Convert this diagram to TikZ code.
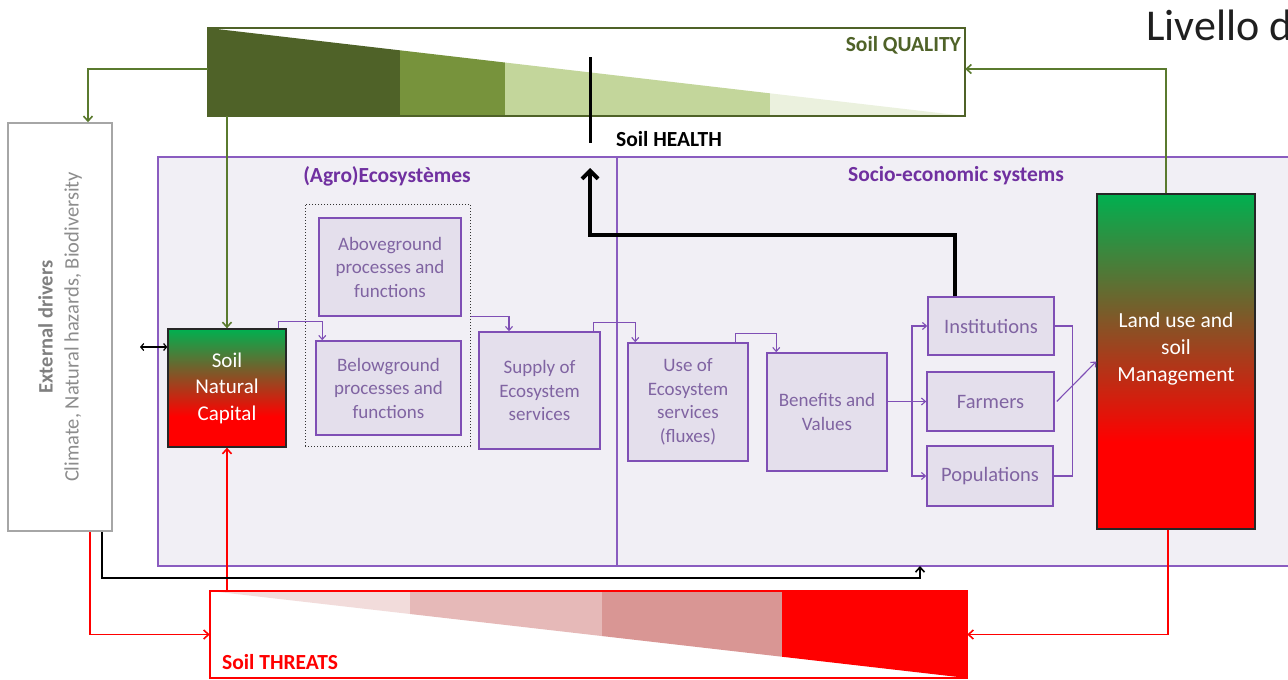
\documentclass[tikz,border=0pt]{standalone}
\usepackage{fontspec}
\setmainfont{Carlito}
\usetikzlibrary{arrows.meta,calc}

% palette
\definecolor{qdark}{HTML}{4F6228}
\definecolor{qmid}{HTML}{77933C}
\definecolor{qlight}{HTML}{C3D69B}
\definecolor{qpale}{HTML}{EBF1DE}
\definecolor{qline}{HTML}{5A7A2E}
\definecolor{tone}{HTML}{F2DCDB}
\definecolor{ttwo}{HTML}{E6B9B8}
\definecolor{tthree}{HTML}{D99694}
\definecolor{tred}{HTML}{FF0000}
\definecolor{sgreen}{HTML}{00B050}
\definecolor{regfill}{HTML}{F1EFF5}
\definecolor{regline}{HTML}{8A5CC0}
\definecolor{boxfill}{HTML}{E4DFEC}
\definecolor{boxline}{HTML}{7F4FB5}
\definecolor{boxtext}{HTML}{8064A2}
\definecolor{titlecol}{HTML}{7030A0}
\definecolor{drvline}{HTML}{A6A6A6}
\definecolor{drvtext}{HTML}{7F7F7F}

% green-to-red fill of the soil boxes (red over the lower quarter)
\pgfdeclareverticalshading{soilgrad}{100bp}{color(0bp)=(tred); color(38bp)=(tred); color(75bp)=(sgreen); color(100bp)=(sgreen)}

\tikzset{
  pbox/.style={draw=boxline, fill=boxfill, line width=1.5pt, text=boxtext, align=center,
    inner sep=0pt, font=\fontsize{19}{23.5}\selectfont},
  actor/.style={pbox, font=\fontsize{20.5}{25}\selectfont},
  soilbox/.style={draw=black!85, line width=1.3pt, shading=soilgrad, text=white, align=center, inner sep=0pt},
  boldlabel/.style={font=\fontsize{21.5}{26}\selectfont\bfseries, inner sep=0pt},
  parrow/.style={draw=boxline, line width=1.1pt, -{Straight Barb[length=4pt,width=7pt]}},
  pline/.style={draw=boxline, line width=1.1pt},
  oarrow/.style={draw=qline, line width=1.6pt, -{Straight Barb[length=5pt,width=9pt]}},
  rarrow/.style={draw=tred, line width=1.6pt, -{Straight Barb[length=5pt,width=9pt]}},
  karrow/.style={draw=black, line width=1.6pt, -{Straight Barb[length=5pt,width=9pt]}},
}

\begin{document}
\begin{tikzpicture}[x=1pt,y=-1pt]
\useasboundingbox (0,0) rectangle (1288,680);
\clip (0,0) rectangle (1288,680);
\fill[white] (0,0) rectangle (1288,680);

% heading, running off the right edge
\node[anchor=base west, inner sep=0pt, font=\fontsize{44}{50}\selectfont, text=black!88] (heading) at (1146,40) {Livello di};

% system regions
\draw[fill=regfill, draw=regline, line width=1.6pt] (158,157) rectangle (1310,566);
\draw[draw=regline, line width=1.6pt] (617,157) -- (617,566);
\node[boldlabel, text=titlecol] (agro) at (387,176) {(Agro)Ecosystèmes};
\node[boldlabel, text=titlecol] (socio) at (956,176) {Socio-economic systems};

% soil quality gauge
\node[minimum width=757pt, minimum height=88pt, inner sep=0pt] (quality) at (586.5,72) {};
\begin{scope}
  \clip (208,28) -- (965,116) -- (208,116) -- cycle;
  \fill[qdark] (208,28) rectangle (400,116);
  \fill[qmid] (400,28) rectangle (505,116);
  \fill[qlight] (505,28) rectangle (770,116);
  \fill[qpale] (770,28) rectangle (965,116);
\end{scope}
\draw[qdark, line width=2pt] (quality.north west) rectangle (quality.south east);
\node[boldlabel, text=qdark, anchor=east] (qlabel) at (961,45) {Soil QUALITY};

% soil health marker
\draw[black, line width=3pt] (590,57) -- (590,143);
\node[boldlabel, text=black, anchor=west] (hlabel) at (616,139) {Soil HEALTH};

% soil threats gauge
\node[minimum width=757pt, minimum height=87pt, inner sep=0pt] (threats) at (588.5,634.5) {};
\begin{scope}
  \clip (210,591) -- (967,591) -- (967,678) -- cycle;
  \fill[tone] (210,591) rectangle (410,678);
  \fill[ttwo] (410,591) rectangle (602,678);
  \fill[tthree] (602,591) rectangle (782,678);
  \fill[tred] (782,591) rectangle (967,678);
\end{scope}
\draw[tred, line width=2pt] (threats.north west) rectangle (threats.south east);
\node[boldlabel, text=tred, anchor=west] (tlabel) at (222,662) {Soil THREATS};

% external drivers
\node[draw=drvline, fill=white, line width=1.5pt, minimum width=104pt, minimum height=408pt, inner sep=0pt] (ext) at (60,327) {};
\node[rotate=90, align=center, font=\fontsize{20.5}{26}\selectfont, inner sep=0pt] (extlabel) at (60,327)
  {\textcolor{drvtext}{\bfseries External drivers}\\\textcolor{drvline!85!black}{Climate, Natural hazards, Biodiversity}};

% ecosystem side
\node[soilbox, minimum width=118pt, minimum height=118pt, font=\fontsize{21}{26.5}\selectfont] (snc) at (227,388) {Soil\\Natural\\Capital};
\node[draw=black!80, dotted, line width=1pt, minimum width=165pt, minimum height=242pt, inner sep=0pt] (group) at (387.5,325) {};
\node[pbox, minimum width=142pt, minimum height=98pt] (above) at (390,267) {Aboveground\\processes and\\functions};
\node[pbox, minimum width=145pt, minimum height=94pt] (below) at (388.5,388) {Belowground\\processes and\\functions};
\node[pbox, minimum width=121pt, minimum height=117pt] (supply) at (539.5,390.5) {Supply of\\Ecosystem\\services};

% socio-economic side
\node[pbox, minimum width=120pt, minimum height=118pt] (use) at (688,402) {Use of\\Ecosystem\\services\\(fluxes)};
\node[pbox, minimum width=120pt, minimum height=118pt] (ben) at (827,412) {Benefits and\\Values};
\node[actor, minimum width=126pt, minimum height=58pt] (inst) at (991,326) {Institutions};
\node[actor, minimum width=127pt, minimum height=59pt] (farm) at (990.5,401.5) {Farmers};
\node[actor, minimum width=126pt, minimum height=60pt] (pop) at (990,476) {Populations};
\node[soilbox, minimum width=158pt, minimum height=335pt] (land) at (1176,361.5) {};
\node[text=white, align=center, inner sep=0pt, font=\fontsize{21.5}{27}\selectfont] (landlabel) at (1176,349) {Land use and\\soil\\Management};

% free ends
\coordinate (extlink) at (140,347);
\coordinate (healthtip) at (590,168);
\coordinate (regtip) at (920,566);
\coordinate (split) at (912,401.5);

% olive connectors
\draw[oarrow] ([yshift=3pt]quality.west) -| ([xshift=28pt]ext.north);
\draw[oarrow] (snc.north |- quality.south) -- (snc.north);
\draw[oarrow] ([xshift=-10pt]land.north) |- ([yshift=3pt]quality.east);

% red connectors
\draw[rarrow] ([xshift=30pt]ext.south) |- (threats.west);
\draw[rarrow] (snc.south |- threats.north) -- (snc.south);
\draw[rarrow] ([xshift=-8pt]land.south) |- (threats.east);

% black connectors
\draw[black, line width=1.2pt, {Straight Barb[length=3pt,width=7pt]}-{Straight Barb[length=3pt,width=7pt]}] (extlink) -- ([yshift=41pt]snc.west);
\draw[karrow] ([xshift=42pt]ext.south) |- (regtip |- 0,578) -- (regtip);
\draw[black, line width=4pt, -{Straight Barb[length=8pt,width=16pt]}] ([xshift=-36pt]inst.north) |- (healthtip |- 0,235) -- (healthtip);

% purple flow
\draw[parrow] ([xshift=-8pt]snc.north east) -- ++(0,-7) -| ([xshift=7pt]below.north west);
\draw[parrow] (group.east |- above.south) -| ([xshift=-30.5pt]supply.north);
\draw[parrow] ([xshift=-7pt]supply.north east) -- ++(0,-9) -| ([xshift=8pt]use.north west);
\draw[parrow] ([xshift=-13pt]use.north east) -- ++(0,-9) -| ([xshift=10pt]ben.north west);
\draw[parrow] (ben.east |- farm.west) -- (farm.west);
\draw[parrow] (split) |- (inst.west);
\draw[parrow] (split) |- (pop.west);
\draw[pline] (inst.east) -- ++(18,0) |- (pop.east);
\draw[parrow] ([xshift=2pt]farm.east) -- (land.west);
\end{tikzpicture}
\end{document}
